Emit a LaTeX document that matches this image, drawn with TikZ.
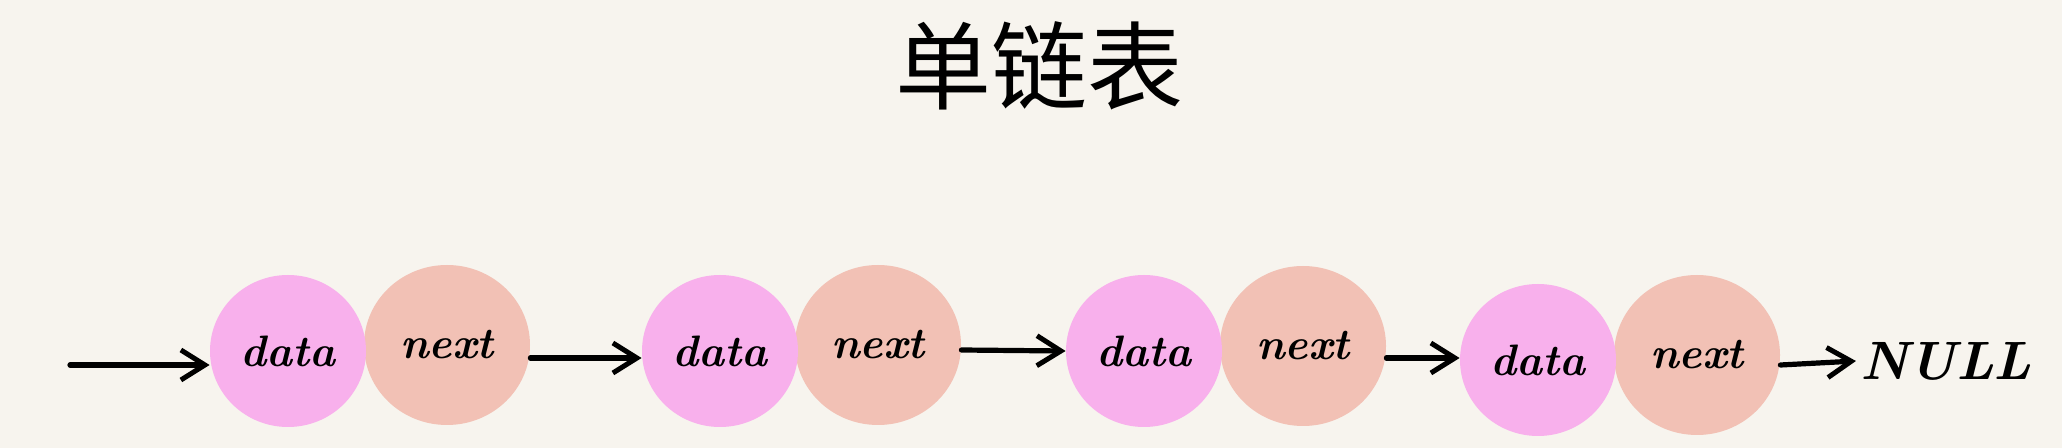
\documentclass[tikz,border=0pt]{standalone}
\usepackage{fontspec}
\newfontfamily\cjk{Noto Sans CJK SC}
\usetikzlibrary{arrows.meta,shapes.geometric}
\definecolor{paper}{RGB}{247,244,238}
\definecolor{datafill}{RGB}{248,176,236}
\definecolor{nextfill}{RGB}{242,193,181}
\tikzset{
  datanode/.style={ellipse, fill=datafill, minimum width=78pt, minimum height=76pt, inner sep=0pt, font=\fontsize{22}{26}\selectfont\bfseries\itshape},
  nextnode/.style={ellipse, fill=nextfill, minimum width=83pt, minimum height=80pt, inner sep=0pt, font=\fontsize{22}{26}\selectfont\bfseries\itshape},
  link/.style={line width=2.6pt, line cap=round, -{Straight Barb[length=12pt, width=15pt, line width=2.5pt]}},
}
\begin{document}
\begin{tikzpicture}[x=0.5pt,y=-0.5pt]
\fill[paper] (0,0) rectangle (2062,448);
\useasboundingbox (0,0) rectangle (2062,448);
\node[font=\cjk\fontsize{48}{52}\selectfont] (title) at (1039,66) {单链表};
\node[nextnode] (n1) at (447,345) {next};
\node[datanode] (d1) at (288,351) {data};
\node[nextnode] (n2) at (878,345) {next};
\node[datanode] (d2) at (720,351) {data};
\node[nextnode] (n3) at (1303,346) {next};
\node[datanode] (d3) at (1144,351) {data};
\node[nextnode] (n4) at (1697,355) {next};
\node[datanode] (d4) at (1538,360) {data};
\node[font=\fontsize{27}{32}\selectfont\bfseries\itshape, inner sep=2pt] (null) at (1946,361) {NULL};
\coordinate (start) at (70,365);
\draw[link] (start) -- ([yshift=-7pt]d1.west);
\draw[link] ([yshift=-6.5pt]n1.east) -- ([yshift=-3.5pt]d2.west);
\draw[link] ([yshift=-2.5pt]n2.east) -- (d3.west);
\draw[link] ([yshift=-6pt]n3.east) -- ([yshift=1pt]d4.west);
\draw[link] ([yshift=-5pt]n4.east) -- (null.west);
\end{tikzpicture}
\end{document}
